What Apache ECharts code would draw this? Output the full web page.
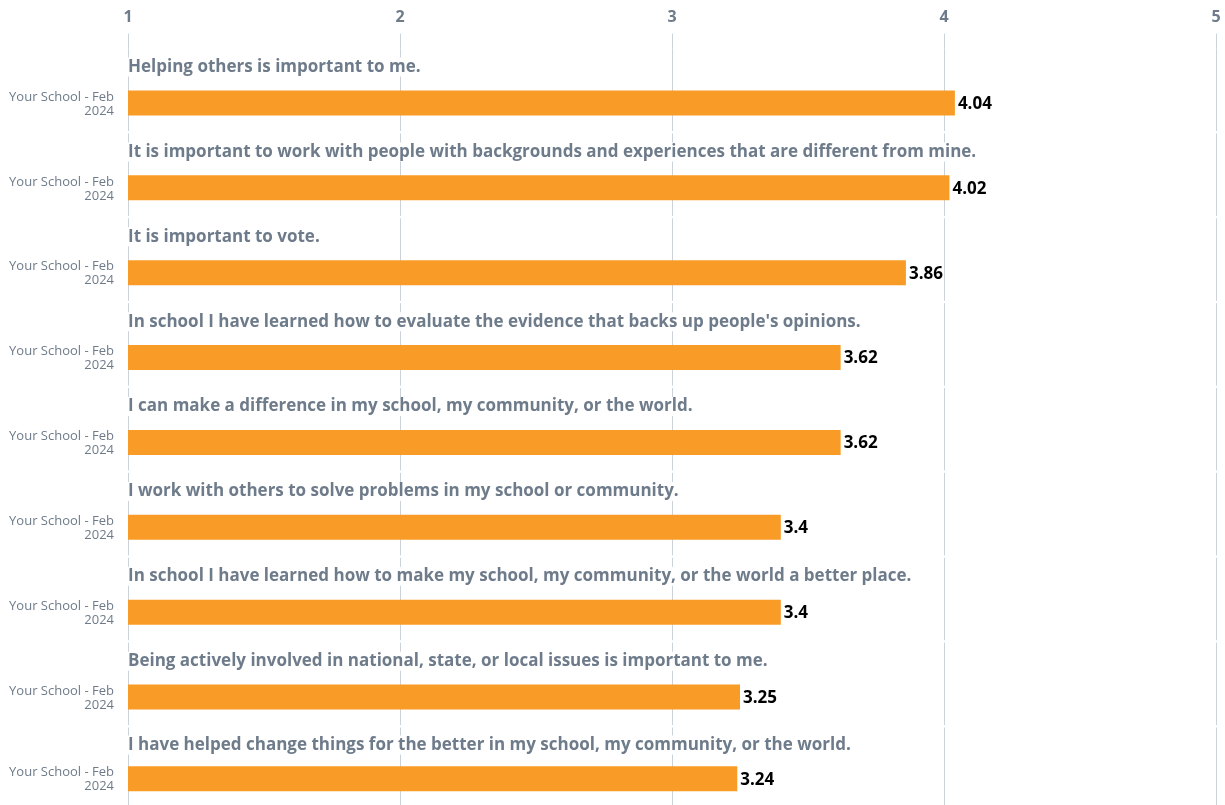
<!DOCTYPE html>
<html>
<head>
<meta charset="utf-8">
<script src="https://cdn.jsdelivr.net/npm/echarts@6/dist/echarts.min.js"></script>
<style>html,body{margin:0;padding:0;background:#fff}#c{width:1225px;height:805px}</style>
</head>
<body>
<div id="c"></div>
<script>
const categories = [
  'Helping others is important to me.',
  'It is important to work with people with backgrounds and experiences that are different from mine.',
  'It is important to vote.',
  "In school I have learned how to evaluate the evidence that backs up people's opinions.",
  'I can make a difference in my school, my community, or the world.',
  'I work with others to solve problems in my school or community.',
  'In school I have learned how to make my school, my community, or the world a better place.',
  'Being actively involved in national, state, or local issues is important to me.',
  'I have helped change things for the better in my school, my community, or the world.'
];
const values = [4.04, 4.02, 3.86, 3.62, 3.62, 3.4, 3.4, 3.25, 3.24];
const seriesName = 'Your School - Feb\n2024';
const xMin = 1, xMax = 5, xStep = 1;

const GRAY = '#6e7b8a';
const GRID = '#ccd2da';
const BAR = '#f89c27';
const FONT = '"Open Sans", "Noto Sans", sans-serif';

const rowTop = 48.5, rowPitch = 84.875, rowH = 82.5;
const grids = [], xAxes = [], yAxes = [], series = [];
categories.forEach((cat, i) => {
  grids.push({left: 128, width: 1088, top: rowTop + i * rowPitch, height: rowH});
  xAxes.push({
    type: 'value', gridIndex: i, min: xMin, max: xMax, interval: xStep, position: 'top',
    axisLine: {show: false},
    axisTick: {show: i === 0, length: 15, lineStyle: {color: GRID, width: 1}},
    axisLabel: {show: i === 0, margin: 23, color: GRAY, fontSize: 16, fontWeight: 'bold', fontFamily: FONT},
    splitLine: {show: true, lineStyle: {color: GRID, width: 1}}
  });
  yAxes.push({type: 'value', gridIndex: i, min: 0, max: 1, inverse: true, show: false});
  series.push({
    type: 'custom', xAxisIndex: i, yAxisIndex: i,
    data: [[values[i], 0]],
    renderItem: function (params, api) {
      const v = api.value(0);
      const p0 = api.coord([xMin, 0.2248]);
      const pb = api.coord([xMin, 0.6605]);
      const p1 = api.coord([v, 0.6605]);
      const barH = 25;
      return {
        type: 'group',
        children: [
          {type: 'rect', shape: {x: pb[0], y: pb[1] - barH / 2, width: p1[0] - pb[0], height: barH}, style: {fill: BAR}},
          {type: 'text', x: p1[0] + 3, y: p1[1] + 1, style: {text: String(v), fill: '#000', font: 'bold 17px ' + FONT, align: 'left', verticalAlign: 'middle'}},
          {type: 'text', x: p0[0], y: p0[1], z2: 10, style: {text: categories[i], fill: GRAY, font: 'bold 17px ' + FONT, align: 'left', verticalAlign: 'middle', backgroundColor: '#fff', padding: [1, 1, 1, 0]}},
          {type: 'text', x: pb[0] - 14, y: pb[1] + 1, style: {text: seriesName, fill: GRAY, font: '13px ' + FONT, lineHeight: 14, align: 'right', verticalAlign: 'middle'}}
        ]
      };
    }
  });
});

const chart = echarts.init(document.getElementById('c'), null, {renderer: 'canvas'});
chart.setOption({
  animation: false,
  backgroundColor: '#fff',
  grid: grids, xAxis: xAxes, yAxis: yAxes, series: series
});
</script>
</body>
</html>
